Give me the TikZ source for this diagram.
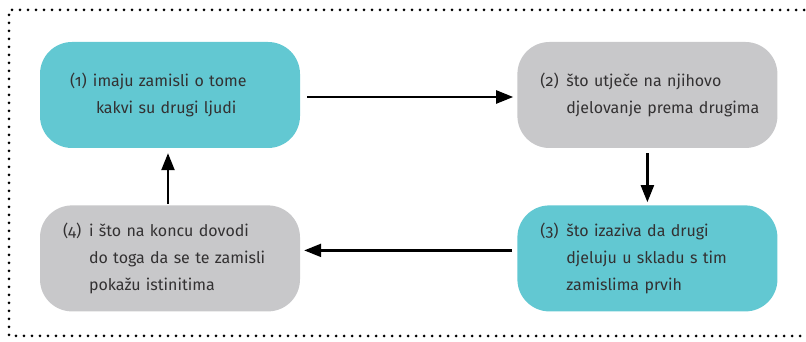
\documentclass[tikz,border=0pt]{standalone}
\usepackage{fontspec}
\setmainfont{Fira Sans}[Numbers=OldStyle]
\usepackage{tikz}
\usetikzlibrary{positioning,arrows.meta}

\definecolor{tirkiz}{HTML}{62C8D2}
\definecolor{siva}{HTML}{C8C8CA}
\definecolor{tekst}{HTML}{333132}

% broj s visecim uvlakom
\newcommand{\korak}[3][26pt]{%
  \begin{tabular}[c]{@{}l@{}l@{}}
    \makebox[#1][l]{#2} & \begin{tabular}[t]{@{}l@{}}#3\end{tabular}
  \end{tabular}}

\begin{document}
\begin{tikzpicture}[x=1pt, y=1pt,
    okvir/.style={rounded corners=32pt, minimum width=260pt, minimum height=106pt,
      text width=214pt, inner xsep=23pt, font=\fontsize{16pt}{27pt}\selectfont,
      text=tekst, align=left},
    tirkizni/.style={okvir, fill=tirkiz},
    sivi/.style={okvir, fill=siva},
    strelica/.style={line width=2.3pt, -{Triangle[length=17pt, width=13pt]}},
    node distance=57pt and 217pt
  ]
  \useasboundingbox (0,0) rectangle (806,342);

  % isprekidani okvir
  \draw[line width=3pt, line cap=round, dash pattern=on 0pt off 8pt]
    (820,332) -- (9,332) -- (9,6) -- (820,6);

  \node[tirkizni] (m1) at (170,247)
    {\hspace*{7pt}\korak[23pt]{(1)}{imaju zamisli o tome\\\hspace*{3pt}kakvi su drugi ljudi}};
  \node[sivi, right=of m1] (m2)
    {\korak{(2)}{što utječe na njihovo\\djelovanje prema drugima}};
  \node[tirkizni, below=of m2] (m3)
    {\korak{(3)}{što izaziva da drugi\\djeluju u skladu s tim\\zamislima prvih}};
  \node[sivi, left=of m3] (m4)
    {\korak{(4)}{i što na koncu dovodi\\do toga da se te zamisli\\pokažu istinitima}};

  \draw[strelica, shorten <=7pt, shorten >=4pt] ([yshift=-2pt]m1.east) -- ([yshift=-2pt]m2.west);
  \draw[strelica, shorten <=5pt, shorten >=3pt] (m2) -- (m3);
  \draw[strelica, shorten <=5pt, shorten >=4pt] ([yshift=8pt]m3.west) -- ([yshift=8pt]m4.east);
  \draw[strelica, shorten <=1pt, shorten >=5pt] ([xshift=-2pt]m4.north) -- ([xshift=-2pt]m1.south);
\end{tikzpicture}
\end{document}
